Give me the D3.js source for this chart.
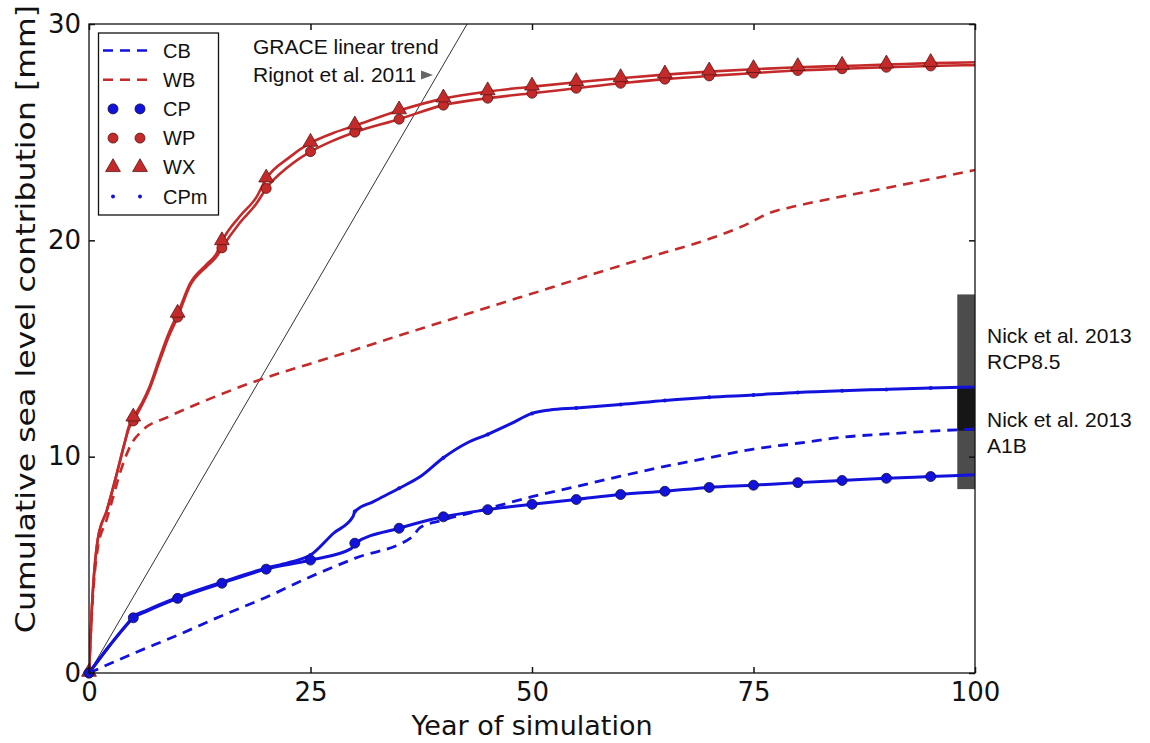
<!DOCTYPE html>
<html>
<head>
<meta charset="utf-8">
<script src="https://cdn.jsdelivr.net/npm/d3@7"></script>
<style>
  html, body { margin: 0; padding: 0; background: #fff; }
  svg { display: block; }
</style>
</head>
<body>
<svg id="chart" width="1150" height="743"></svg>
<script>
// ---------------- DATA ----------------
const xTicks = [0, 25, 50, 75, 100];
const yTicks = [0, 10, 20, 30];
const xLabel = "Year of simulation";
const yLabel = "Cumulative sea level contribution [mm]";

// [year, mm]
const wxData = [[0,0],[0.3,2.8],[1,6.2],[2,7.5],[3,9.0],[4,10.6],[4.5,11.4],[5,11.8],[6,12.5],[6.7,13.1],[8,14.6],[9,15.7],[10,16.6],[11.4,18.0],[13.3,18.9],[14.4,19.4],[15,19.95],[17,21.1],[18.9,22.0],[20,22.85],[22.5,23.8],[25,24.5],[27.5,24.95],[30,25.3],[35,26.0],[40,26.55],[45,26.88],[50,27.1],[55,27.31],[60,27.49],[65,27.66],[70,27.8],[75,27.91],[80,28.0],[85,28.06],[90,28.12],[95,28.19],[100,28.23]];
const wpData = [[0,0],[0.3,2.8],[1,6.2],[2,7.5],[3,9.0],[4,10.6],[4.5,11.3],[5,11.65],[6,12.4],[6.7,13.0],[8,14.45],[9,15.55],[10,16.45],[11.4,17.9],[13.3,18.8],[14.4,19.25],[15,19.65],[17,20.8],[18.9,21.7],[20,22.4],[22.5,23.4],[25,24.1],[27.5,24.6],[30,25.0],[35,25.6],[40,26.25],[45,26.57],[50,26.8],[55,27.03],[60,27.26],[65,27.45],[70,27.6],[75,27.73],[80,27.85],[85,27.93],[90,28.0],[95,28.06],[100,28.1]];
const wbData = [[0,0],[0.3,2.6],[1,5.8],[2,7.1],[2.5,7.8],[3.7,9.5],[4.8,10.6],[6,11.2],[9,11.85],[12.9,12.55],[19.3,13.56],[25,14.3],[29.4,14.86],[35,15.6],[40.6,16.32],[45,16.9],[51.9,17.78],[57,18.45],[63.2,19.23],[68,19.8],[71.6,20.3],[74.4,20.77],[76.6,21.23],[80,21.6],[84,21.95],[88.5,22.3],[94,22.75],[100,23.25]];
const cpData = [[0,0],[2.2,1.2],[4.4,2.3],[5,2.55],[6.5,2.85],[10,3.45],[15,4.15],[20,4.8],[25,5.22],[29.6,5.75],[30,6.0],[35,6.69],[40,7.22],[45,7.55],[50,7.8],[55,8.02],[60,8.25],[65,8.4],[70,8.58],[75,8.68],[80,8.8],[85,8.9],[90,9.0],[95,9.08],[100,9.16]];
const cpmData = [[0,0],[2.2,1.2],[4.4,2.3],[5,2.6],[6.5,2.9],[10,3.5],[15,4.2],[20,4.85],[22.5,5.1],[25,5.45],[27.6,6.46],[29.8,7.23],[30,7.46],[32.1,7.92],[35,8.54],[37.4,9.08],[40,9.95],[42.6,10.62],[45,11.03],[47.5,11.5],[50,12.0],[52,12.16],[55,12.25],[60,12.41],[65,12.6],[70,12.75],[75,12.85],[80,12.97],[85,13.05],[90,13.11],[95,13.17],[100,13.22]];
const cbData = [[0,0],[5,0.9],[10,1.75],[15,2.65],[20,3.5],[25,4.45],[30,5.3],[36.5,6.3],[37.3,6.7],[40,7.07],[45,7.6],[50,8.15],[55,8.62],[60,9.1],[65,9.55],[70,9.95],[75,10.35],[80,10.62],[85,10.9],[90,11.05],[95,11.18],[100,11.28]];

const markerYears = [0,5,10,15,20,25,30,35,40,45,50,55,60,65,70,75,80,85,90,95];

// GRACE linear trend (mm per year)
const graceRate = 0.703;
const graceLabel = ["GRACE linear trend", "Rignot et al. 2011"];

// Nick et al. 2013 ranges [low, high] in mm, shown over years 98-100
const nickBars = [
  { name: "A1B", range: [8.5, 13.2] },
  { name: "RCP8.5", range: [11.2, 17.5] }
];
const nickYears = [98, 100];
const nickLabels = [["Nick et al. 2013", "RCP8.5"], ["Nick et al. 2013", "A1B"]];
const nickLabelLevels = [15.25, 11.37];

const legendItems = ["CB", "WB", "CP", "WP", "WX", "CPm"];

// ---------------- DRAWING ----------------
const BLUE = "#1212dc", RED = "#c42a2a";
const svg = d3.select("#chart");
const x = d3.scaleLinear().domain([0, 100]).range([89, 975]);
const y = d3.scaleLinear().domain([0, 30]).range([673, 24]);

svg.append("defs").append("clipPath").attr("id", "plotclip")
  .append("rect").attr("x", x(0)).attr("y", y(30)).attr("width", x(100) - x(0)).attr("height", y(0) - y(30));

const plot = svg.append("g").attr("clip-path", "url(#plotclip)");

// Nick bars (semi-transparent black, overlapping darker)
plot.selectAll("rect.nick").data(nickBars).enter().append("rect")
  .attr("class", "nick")
  .attr("x", x(nickYears[0])).attr("width", x(nickYears[1]) - x(nickYears[0]))
  .attr("y", d => y(d.range[1])).attr("height", d => y(d.range[0]) - y(d.range[1]))
  .attr("fill", "#000").attr("fill-opacity", 0.7);

// GRACE line
plot.append("line")
  .attr("x1", x(0)).attr("y1", y(0))
  .attr("x2", x(100)).attr("y2", y(graceRate * 100))
  .attr("stroke", "#333").attr("stroke-width", 1);

const line = d3.line().x(d => x(d[0])).y(d => y(d[1])).curve(d3.curveMonotoneX);

function drawLine(data, color, width, dash) {
  plot.append("path").datum(data)
    .attr("d", line).attr("fill", "none")
    .attr("stroke", color).attr("stroke-width", width)
    .attr("stroke-dasharray", dash || null)
    .attr("stroke-linejoin", "round");
}
drawLine(wbData, RED, 2.6, "10,7");
drawLine(cbData, BLUE, 2.8, "10,7");
drawLine(wpData, RED, 2.6);
drawLine(wxData, RED, 2.6);
drawLine(cpData, BLUE, 3);
drawLine(cpmData, BLUE, 3);

function valueAt(data, yr) {
  const p = data.find(d => d[0] === yr);
  return p ? p[1] : null;
}
const triangle = d3.symbol().type(d3.symbolTriangle).size(95);

// markers
svg.append("g").selectAll("circle").data(markerYears).enter().append("circle")
  .attr("cx", d => x(d)).attr("cy", d => y(valueAt(wpData, d))).attr("r", 5)
  .attr("fill", RED).attr("stroke", "#5a1515").attr("stroke-width", 0.8);
svg.append("g").selectAll("path").data(markerYears).enter().append("path")
  .attr("d", triangle)
  .attr("transform", d => `translate(${x(d)},${y(valueAt(wxData, d)) - 1})`)
  .attr("fill", RED).attr("stroke", "#5a1515").attr("stroke-width", 0.8);
svg.append("g").selectAll("circle").data(markerYears).enter().append("circle")
  .attr("cx", d => x(d)).attr("cy", d => y(valueAt(cpData, d))).attr("r", 5)
  .attr("fill", BLUE).attr("stroke", "#101040").attr("stroke-width", 0.8);
svg.append("g").selectAll("circle").data(markerYears).enter().append("circle")
  .attr("cx", d => x(d)).attr("cy", d => y(valueAt(cpmData, d))).attr("r", 2)
  .attr("fill", BLUE);

// frame + axes
svg.append("rect").attr("x", x(0)).attr("y", y(30)).attr("width", x(100) - x(0)).attr("height", y(0) - y(30))
  .attr("fill", "none").attr("stroke", "#111").attr("stroke-width", 1.3);

const tickFont = "DejaVu Sans, sans-serif";
const gx = svg.append("g").attr("transform", `translate(0,${y(0)})`)
  .call(d3.axisBottom(x).tickValues(xTicks).tickSize(-6).tickSizeOuter(0).tickPadding(10).tickFormat(d3.format("d")));
const gy = svg.append("g").attr("transform", `translate(${x(0)},0)`)
  .call(d3.axisLeft(y).tickValues(yTicks).tickSize(-6).tickSizeOuter(0).tickPadding(8).tickFormat(d3.format("d")));
const gt = svg.append("g").attr("transform", `translate(0,${y(30)})`)
  .call(d3.axisTop(x).tickValues(xTicks).tickSize(-6).tickSizeOuter(0).tickFormat(""));
const gr = svg.append("g").attr("transform", `translate(${x(100)},0)`)
  .call(d3.axisRight(y).tickValues(yTicks).tickSize(-6).tickSizeOuter(0).tickFormat(""));
[gx, gy, gt, gr].forEach(g => {
  g.select(".domain").remove();
  g.selectAll(".tick line").attr("stroke", "#111").attr("stroke-width", 1.5);
  g.selectAll(".tick text").attr("font-family", tickFont).attr("font-size", 26).attr("fill", "#111");
});

// axis labels
svg.append("text").attr("x", 532).attr("y", 735).attr("text-anchor", "middle")
  .attr("font-family", tickFont).attr("font-size", 27).attr("fill", "#111").text(xLabel);
svg.append("text").attr("transform", "translate(35,319) scale(1,1.17) rotate(-90)")
  .attr("text-anchor", "middle")
  .attr("font-family", tickFont).attr("font-size", 27).attr("fill", "#111").text(yLabel);

// annotations
const annFont = "Liberation Sans, Arial, Helvetica, sans-serif";
svg.append("text").attr("x", 253).attr("y", 54).attr("font-family", annFont).attr("font-size", 21).attr("fill", "#111").text(graceLabel[0]);
svg.append("text").attr("x", 253).attr("y", 81.5).attr("font-family", annFont).attr("font-size", 21).attr("fill", "#111").text(graceLabel[1]);
svg.append("path").attr("d", "M421,70.5 L433,75 L421,79.5 Z").attr("fill", "#666");

nickLabels.forEach((lines, i) => {
  lines.forEach((t, j) => {
    svg.append("text").attr("x", 987).attr("y", y(nickLabelLevels[i]) + j * 25.5)
      .attr("font-family", annFont).attr("font-size", 21).attr("fill", "#111").text(t);
  });
});

// legend
const lg = svg.append("g");
lg.append("rect").attr("x", 98.5).attr("y", 33).attr("width", 120).attr("height", 182)
  .attr("fill", "#fff").attr("stroke", "#111").attr("stroke-width", 1.3);
const rowY = i => 50.5 + i * 29.2;
const mx = [113, 140];
legendItems.forEach((name, i) => {
  const cy = rowY(i);
  if (name === "CB" || name === "WB") {
    lg.append("line").attr("x1", 103).attr("x2", 150).attr("y1", cy).attr("y2", cy)
      .attr("stroke", name === "CB" ? BLUE : RED).attr("stroke-width", 2.6).attr("stroke-dasharray", "10,7");
  } else {
    mx.forEach(px => {
      if (name === "WX") {
        lg.append("path").attr("d", triangle).attr("transform", `translate(${px},${cy})`)
          .attr("fill", RED).attr("stroke", "#5a1515").attr("stroke-width", 0.8);
      } else {
        lg.append("circle").attr("cx", px).attr("cy", cy)
          .attr("r", name === "CPm" ? 2 : 5)
          .attr("fill", name === "WP" ? RED : BLUE)
          .attr("stroke", name === "CPm" ? "none" : (name === "WP" ? "#5a1515" : "#101040"))
          .attr("stroke-width", 0.8);
      }
    });
  }
  lg.append("text").attr("x", 163).attr("y", cy + 7).attr("font-family", annFont)
    .attr("font-size", 20).attr("fill", "#111").text(name);
});
</script>
</body>
</html>
